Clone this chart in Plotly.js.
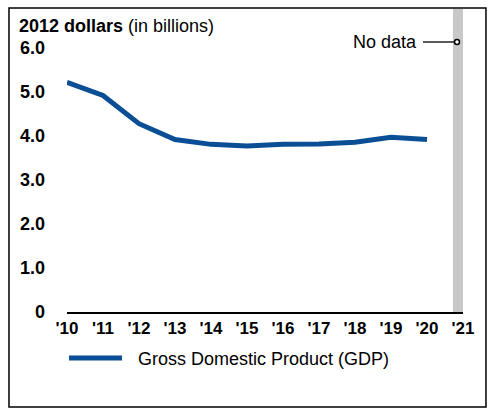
<!DOCTYPE html>
<html>
<head>
<meta charset="utf-8">
<script src="https://cdn.plot.ly/plotly-3.0.1.min.js"></script>
<style>html,body{margin:0;padding:0;background:#fff;}#chart{width:491px;height:413px;}</style>
</head>
<body>
<div id="chart"></div>
<script>
const years = [2010, 2011, 2012, 2013, 2014, 2015, 2016, 2017, 2018, 2019, 2020];
const gdp = [5.22, 4.92, 4.28, 3.92, 3.81, 3.77, 3.81, 3.82, 3.86, 3.97, 3.92];
const xTickVals = [2010, 2011, 2012, 2013, 2014, 2015, 2016, 2017, 2018, 2019, 2020, 2021];
const xTickText = ["'10", "'11", "'12", "'13", "'14", "'15", "'16", "'17", "'18", "'19", "'20", "'21"];
const yTickVals = [0, 1, 2, 3, 4, 5, 6];
const yTickText = ["0", "1.0", "2.0", "3.0", "4.0", "5.0", "6.0"];
const seriesName = "Gross Domestic Product (GDP)";
const yTitle = "<b>2012 dollars</b> (in billions)";
const noDataLabel = "No data";

const FONT = "Arial, 'Liberation Sans', sans-serif";
const BLUE = "#0a4f95";

const trace = {
  x: years, y: gdp, type: "scatter", mode: "lines", name: seriesName,
  line: {color: BLUE, width: 5}, showlegend: false, hoverinfo: "skip"
};

const layout = {
  width: 491, height: 413,
  margin: {l: 67, r: 28, t: 48, b: 101, pad: 0},
  paper_bgcolor: "#fff", plot_bgcolor: "rgba(0,0,0,0)",
  font: {family: FONT, color: "#000", size: 18},
  showlegend: false,
  xaxis: {
    range: [2010, 2021], tickvals: xTickVals, ticktext: xTickText,
    showgrid: false, zeroline: false, showline: true, linecolor: "#000", linewidth: 2,
    ticks: "", ticklabelstandoff: 0,
    tickfont: {family: FONT, size: 17, color: "#000", weight: "bold"}, fixedrange: true
  },
  yaxis: {
    range: [0, 6], tickvals: yTickVals, ticktext: yTickText,
    showgrid: false, zeroline: false, showline: false, ticks: "",
    ticklabelstandoff: 21,
    tickfont: {family: FONT, size: 18, color: "#000", weight: "bold"}, fixedrange: true
  },
  shapes: [
    {type: "rect", xref: "x", yref: "paper", x0: 2020.72, x1: 2021, y0: 0, y1: 1.148,
     fillcolor: "#c8c8c8", line: {width: 0}, layer: "below"},
    {type: "rect", xref: "paper", yref: "paper", x0: -0.1465, x1: 1.058, y0: -0.3598, y1: 1.1515,
     line: {color: "#000", width: 1.5}, fillcolor: "rgba(0,0,0,0)"},
    {type: "line", xref: "paper", yref: "paper", x0: (423-67)/396, x1: (455-67)/396,
     y0: (312-42)/264, y1: (312-42)/264, line: {color: "#000", width: 1.3}},
    {type: "circle", xref: "paper", yref: "paper", x0: (454.5-67)/396, x1: (459.5-67)/396,
     y0: (312-44.5)/264, y1: (312-39.5)/264, line: {color: "#000", width: 1.5}, fillcolor: "#fff"},
    {type: "line", xref: "paper", yref: "paper", x0: (69-67)/396, x1: (122-67)/396,
     y0: (312-358)/264, y1: (312-358)/264, line: {color: BLUE, width: 5}}
  ],
  annotations: [
    {xref: "paper", yref: "paper", x: (17-67)/396, y: (312-26)/264, xanchor: "left", yanchor: "middle",
     text: yTitle, showarrow: false, font: {family: FONT, size: 18, color: "#000"}},
    {xref: "paper", yref: "paper", x: (419-67)/396, y: (312-42)/264, xanchor: "right", yanchor: "middle",
     text: noDataLabel, showarrow: false, font: {family: FONT, size: 18, color: "#000"}},
    {xref: "paper", yref: "paper", x: (136-67)/396, y: (312-358.5)/264, xanchor: "left", yanchor: "middle",
     text: seriesName, showarrow: false, font: {family: FONT, size: 18, color: "#000"}}
  ]
};

Plotly.newPlot("chart", [trace], layout, {displayModeBar: false, staticPlot: true});
</script>
</body>
</html>
